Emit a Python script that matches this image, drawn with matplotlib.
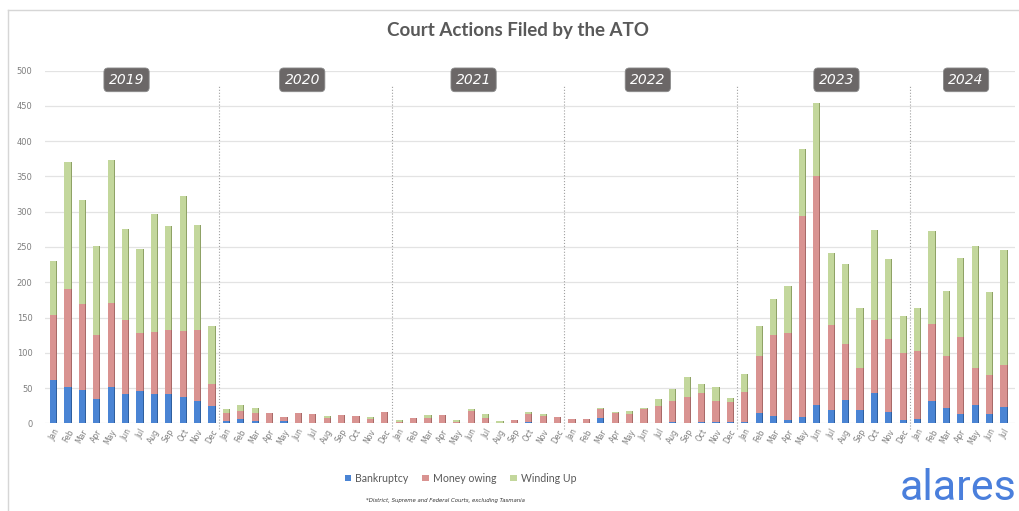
import numpy as np
import matplotlib
matplotlib.use("Agg")
import matplotlib.pyplot as plt
from matplotlib.lines import Line2D
from matplotlib.patches import Patch

# Monthly court actions, per year (segments of each stacked bar)
years = ['2019', '2020', '2021', '2022', '2023', '2024']
months = ['Jan', 'Feb', 'Mar', 'Apr', 'May', 'Jun',
          'Jul', 'Aug', 'Sep', 'Oct', 'Nov', 'Dec']

bankruptcy_2019 = [61, 51, 47, 34, 51, 41, 46, 41, 42, 38, 31, 25]
money_2019 = [93, 139, 122, 91, 119, 105, 82, 88, 91, 93, 102, 31]
winding_2019 = [76, 181, 147, 127, 204, 129, 119, 168, 147, 191, 148, 82]

bankruptcy_2020 = [3, 6, 3, 1, 3, 1, 0, 1, 0, 0, 1, 0]
money_2020 = [12, 12, 11, 13, 6, 14, 13, 7, 12, 11, 5, 16]
winding_2020 = [5, 8, 8, 0, 0, 0, 0, 2, 0, 0, 3, 0]

bankruptcy_2021 = [0, 0, 0, 0, 0, 0, 0, 0, 0, 2, 0, 0]
money_2021 = [2, 8, 8, 12, 2, 17, 7, 1, 4, 11, 11, 9]
winding_2021 = [3, 0, 4, 0, 3, 4, 6, 2, 0, 3, 2, 0]

bankruptcy_2022 = [0, 0, 8, 1, 0, 1, 1, 2, 1, 2, 2, 2]
money_2022 = [6, 6, 13, 13, 13, 20, 23, 29, 36, 41, 30, 28]
winding_2022 = [0, 0, 1, 2, 4, 1, 10, 18, 29, 13, 19, 6]

bankruptcy_2023 = [2, 15, 10, 5, 9, 26, 19, 33, 19, 43, 16, 4]
money_2023 = [42, 81, 115, 123, 285, 324, 120, 80, 59, 104, 103, 96]
winding_2023 = [26, 42, 51, 66, 95, 104, 103, 113, 86, 127, 114, 52]

bankruptcy_2024 = [6, 31, 22, 13, 26, 13, 23]
money_2024 = [97, 110, 74, 110, 53, 55, 59]
winding_2024 = [61, 131, 91, 111, 173, 118, 164]

bankruptcy = np.array(bankruptcy_2019 + bankruptcy_2020 + bankruptcy_2021 +
                      bankruptcy_2022 + bankruptcy_2023 + bankruptcy_2024)
money = np.array(money_2019 + money_2020 + money_2021 +
                 money_2022 + money_2023 + money_2024)
winding = np.array(winding_2019 + winding_2020 + winding_2021 +
                   winding_2022 + winding_2023 + winding_2024)
labels = [months[i % 12] for i in range(len(bankruptcy))]

blue = '#4a84d4'
red = '#d99391'
green = '#c3d79c'
blue_dk = '#2f5f9e'
red_dk = '#a86a68'
green_dk = '#8fa266'

fig = plt.figure(figsize=(10.19, 5.11), dpi=100)
ax = fig.add_axes([0.0442, 0.1716, 0.9519, 0.6901])

x = np.arange(len(bankruptcy))
w = 0.44
# darker right side of each bar gives the 3D look
for vals, bottoms, c, cd in [(bankruptcy, 0, blue, blue_dk),
                             (money, bankruptcy, red, red_dk),
                             (winding, bankruptcy + money, green, green_dk)]:
    ax.bar(x + 0.07, vals, w, bottom=bottoms, color=cd, zorder=2)
    ax.bar(x, vals, w, bottom=bottoms, color=c, zorder=3)

ax.set_xlim(-0.56, 66.8)
ax.set_ylim(0, 500)
ax.set_yticks(range(0, 501, 50))
ax.yaxis.grid(True, color='#e3e3e3', linewidth=0.9, zorder=0)
ax.set_axisbelow(True)
for s in ax.spines.values():
    s.set_visible(False)
ax.tick_params(axis='both', length=0, colors='#7f7f7f', labelsize=6)
ax.tick_params(axis='y', pad=9)
ax.set_xticks(x)
ax.set_xticklabels(labels, rotation=60, ha='right', rotation_mode='anchor',
                   fontsize=5.5, color='#7f7f7f')
ax.tick_params(axis='x', pad=3)

# year dividers and year badges
dividers = [11.5, 23.5, 35.5, 47.5, 59.5]
badge_x = [5.1, 17.3, 29.2, 41.3, 54.4, 63.4]
for e in dividers:
    ax.plot([e, e], [-8, 480], color='#a0a0a0', linestyle=':',
            linewidth=0.8, clip_on=False, zorder=1)
for cx, yr in zip(badge_x, years):
    ax.text(cx, 487, yr, ha='center', va='center', fontsize=10,
            style='italic', color='white', zorder=5,
            bbox=dict(boxstyle='round,pad=0.35,rounding_size=0.3',
                      facecolor='#6b6767', edgecolor='#8a8a8a',
                      linewidth=0.6))

fig.text(0.508, 0.941, 'Court Actions Filed by the ATO', ha='center',
         va='center', fontsize=13.5, fontweight='bold', color='#595959',
         family='Lato')

handles = [Patch(facecolor=blue), Patch(facecolor=red), Patch(facecolor=green)]
fig.legend(handles, ['Bankruptcy', 'Money owing', 'Winding Up'],
           loc='center', bbox_to_anchor=(0.452, 0.064), ncol=3,
           frameon=False, handlelength=0.6, handleheight=0.6,
           handletextpad=0.4, columnspacing=1.3, labelcolor='#595959',
           prop={'family': 'Lato', 'size': 7.6})

fig.text(0.437, 0.02, '*District, Supreme and Federal Courts, excluding Tasmania',
         ha='center', va='center', fontsize=3.9, style='italic',
         color='#333333')

fig.text(0.998, 0.045, 'alares', ha='right', va='center', fontsize=31,
         color='#4a7fdc', family='Roboto')

# frame of the original slide
fig.add_artist(Line2D([0.008, 1.0], [0.981, 0.981], color='#d6d6d6',
                      linewidth=1.0, transform=fig.transFigure))
fig.add_artist(Line2D([0.008, 0.008], [0.0, 0.981], color='#d6d6d6',
                      linewidth=1.0, transform=fig.transFigure))

fig.savefig('out.png', dpi=100)
